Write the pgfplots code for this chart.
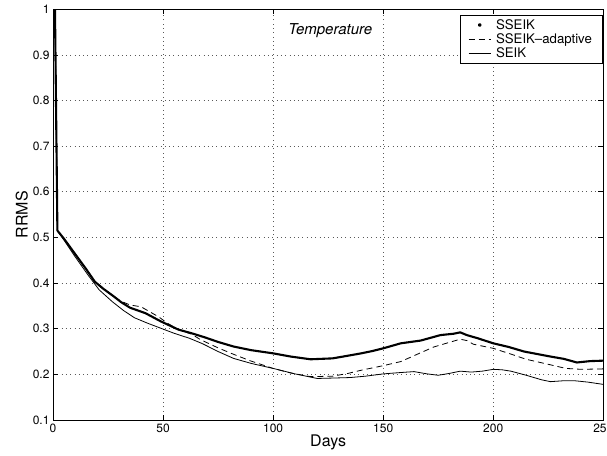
\documentclass[border=0pt]{standalone}
\usepackage{pgfplots}
\pgfplotsset{compat=1.18}
\usepackage{fontspec}
\setmainfont{TeX Gyre Heros}

\pgfplotstableread{
d v
0.9 1.0
2 0.515
5 0.497
10 0.464
15 0.431
19 0.403
23 0.387
27 0.373
31 0.358
35 0.346
42 0.334
49 0.316
57 0.298
63 0.290
69 0.281
75 0.271
82 0.261
90 0.253
100 0.246
108 0.239
117 0.233
127 0.235
133 0.240
140 0.246
145 0.251
150 0.257
158 0.268
167 0.274
176 0.286
182 0.289
185 0.292
188 0.286
193 0.279
200 0.268
207 0.260
214 0.250
226 0.239
232 0.234
238 0.226
244 0.229
250 0.230
}\sseik

\pgfplotstableread{
d v
0.9 1.0
2 0.515
5 0.497
10 0.463
15 0.430
19 0.402
23 0.386
27 0.372
31 0.360
35 0.352
40 0.348
44 0.337
48 0.326
52 0.312
57 0.298
63 0.288
67 0.276
75 0.258
82 0.244
90 0.229
100 0.213
108 0.203
117 0.195
127 0.196
134 0.202
140 0.209
150 0.219
158 0.228
165 0.243
173 0.260
180 0.270
185 0.277
188 0.274
191 0.266
200 0.257
207 0.246
215 0.233
225 0.222
233 0.213
240 0.211
250 0.212
}\adaptive

\pgfplotstableread{
d v
0.9 1.0
2 0.515
5 0.494
10 0.458
16 0.417
21 0.385
27 0.359
32 0.340
37 0.324
43 0.312
49 0.301
55 0.290
62 0.279
68 0.267
75 0.250
82 0.235
90 0.224
100 0.213
110 0.201
120 0.191
128 0.192
135 0.193
142 0.196
150 0.201
158 0.204
164 0.206
170 0.201
175 0.198
180 0.202
185 0.207
190 0.205
195 0.207
200 0.211
204 0.210
208 0.207
215 0.198
222 0.188
226 0.184
232 0.186
237 0.186
243 0.183
250 0.178
}\seik

\begin{document}
\begin{tikzpicture}
\begin{axis}[
  scale only axis, width=550.3pt, height=410.8pt,
  xmin=0, xmax=250, ymin=0.1, ymax=1,
  xtick={0,50,...,250}, ytick={0.1,0.2,...,1.0},
  tick align=inside, major tick length=5pt,
  /pgf/number format/assume math mode=true,
  tick label style={font=\fontsize{12}{14}\selectfont},
  xlabel={Days}, ylabel={RRMS},
  label style={font=\fontsize{16}{18}\selectfont},
  xlabel style={yshift=4pt}, ylabel style={yshift=-2pt},
  axis line style={line width=0.9pt},
  every tick/.style={black, line width=0.6pt},
  grid=major,
  major grid style={black!65, line width=0.6pt, dash pattern=on 0.7pt off 3.6pt},
  legend style={at={(axis description cs:0.998,0.986)}, anchor=north east,
    draw=black, line width=0.6pt, font=\fontsize{13.2}{13.5}\selectfont,
    row sep=-1pt, inner xsep=8pt, inner ysep=2pt},
  legend cell align=left,
]
\addplot[black, line width=2.1pt, line join=round,
  legend image code/.code={\fill[black] (11pt,0pt) circle (0.9pt);}]
  table[x=d, y=v] {\sseik};
\addlegendentry{\hspace{3pt}SSEIK}
\addplot[black, line width=0.8pt, dash pattern=on 6pt off 4pt,
  legend image code/.code={\draw[black, line width=0.8pt, dash pattern=on 6pt off 4pt] (0pt,0pt) -- (22pt,0pt);}]
  table[x=d, y=v] {\adaptive};
\addlegendentry{\hspace{3pt}SSEIK--adaptive\hspace{2pt}}
\addplot[black, line width=0.8pt,
  legend image code/.code={\draw[black, line width=0.8pt] (0pt,0pt) -- (22pt,0pt);}]
  table[x=d, y=v] {\seik};
\addlegendentry{\hspace{3pt}SEIK}
\node[font=\fontsize{15}{18}\selectfont\itshape] at (axis cs:126,0.954) {Temperature};
\end{axis}
\pgfresetboundingbox
\path[use as bounding box] ([xshift=-53pt,yshift=-36pt]current axis.south west)
  rectangle ([xshift=3.7pt,yshift=9.2pt]current axis.north east);
\end{tikzpicture}
\end{document}
